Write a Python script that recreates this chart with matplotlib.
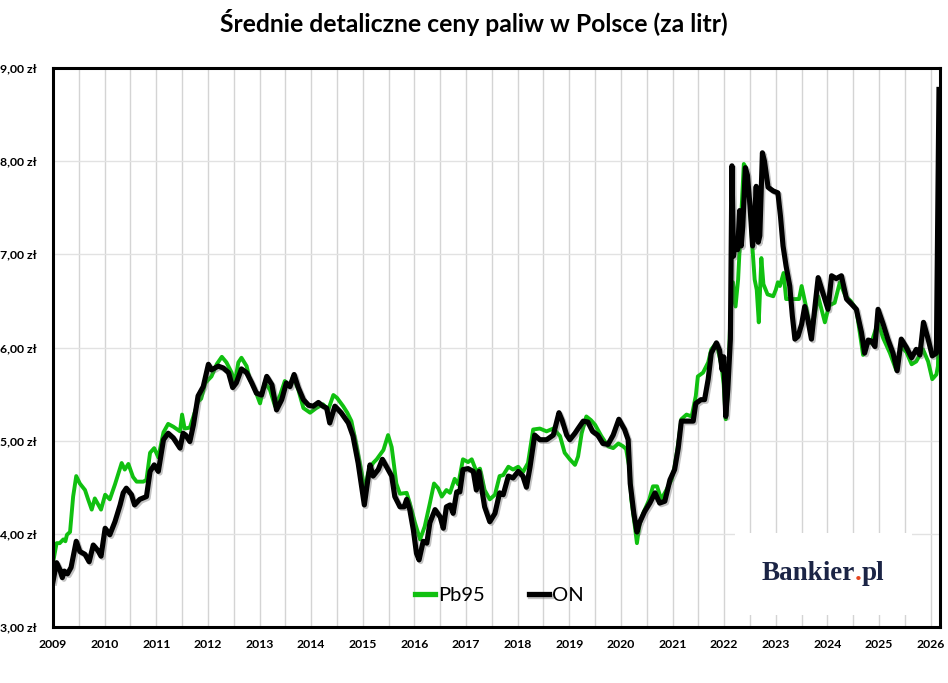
import matplotlib
matplotlib.use("Agg")
import matplotlib.pyplot as plt
import matplotlib.patheffects as pe
from matplotlib.patches import Rectangle

# ---------------- data (decimal year, PLN per litre) ----------------
pb95_t = [2009.00, 2009.07, 2009.13, 2009.20, 2009.24, 2009.27, 2009.33, 2009.39, 2009.45, 2009.52,
          2009.62, 2009.68, 2009.75, 2009.81, 2009.87, 2009.93, 2010.01, 2010.10, 2010.20, 2010.33,
          2010.39, 2010.46, 2010.55, 2010.62, 2010.75, 2010.81, 2010.88, 2010.96, 2011.04, 2011.14,
          2011.23, 2011.33, 2011.46, 2011.50, 2011.55, 2011.65, 2011.72, 2011.81, 2011.87, 2011.95,
          2012.07, 2012.17, 2012.27, 2012.36, 2012.46, 2012.52, 2012.59, 2012.65, 2012.75, 2012.81,
          2012.91, 2013.01, 2013.10, 2013.20, 2013.30, 2013.40, 2013.49, 2013.58, 2013.65, 2013.75,
          2013.85, 2013.98, 2014.10, 2014.23, 2014.33, 2014.43, 2014.50, 2014.62, 2014.70, 2014.78,
          2014.88, 2014.98, 2015.04, 2015.10, 2015.20, 2015.27, 2015.40, 2015.49, 2015.56, 2015.65,
          2015.72, 2015.85, 2015.91, 2016.01, 2016.11, 2016.20, 2016.30, 2016.38, 2016.46, 2016.53,
          2016.62, 2016.69, 2016.78, 2016.85, 2016.94, 2017.04, 2017.11, 2017.20, 2017.27, 2017.36,
          2017.46, 2017.56, 2017.65, 2017.72, 2017.82, 2017.91, 2018.01, 2018.10, 2018.20, 2018.30,
          2018.43, 2018.56, 2018.69, 2018.82, 2018.91, 2019.01, 2019.11, 2019.17, 2019.24, 2019.33,
          2019.42, 2019.50, 2019.62, 2019.75, 2019.85, 2019.95, 2020.04, 2020.10, 2020.17, 2020.20,
          2020.27, 2020.31, 2020.36, 2020.43, 2020.55, 2020.62, 2020.70, 2020.78, 2020.88, 2020.98,
          2021.04, 2021.11, 2021.17, 2021.27, 2021.37, 2021.45, 2021.49, 2021.59, 2021.69, 2021.75,
          2021.85, 2021.95, 2021.99, 2022.03, 2022.07, 2022.12, 2022.17, 2022.22, 2022.27, 2022.33,
          2022.38, 2022.42, 2022.50, 2022.55, 2022.59, 2022.63, 2022.67, 2022.72, 2022.76, 2022.84,
          2022.95, 2023.00, 2023.04, 2023.08, 2023.15, 2023.20, 2023.30, 2023.45, 2023.50, 2023.60,
          2023.69, 2023.75, 2023.82, 2023.95, 2024.03, 2024.14, 2024.24, 2024.35, 2024.45, 2024.56,
          2024.69, 2024.75, 2024.85, 2024.98, 2025.08, 2025.21, 2025.33, 2025.43, 2025.53, 2025.63,
          2025.72, 2025.85, 2025.95, 2026.03, 2026.11, 2026.14, 2026.17]
pb95_v = [3.69, 3.90, 3.90, 3.94, 3.92, 3.99, 4.02, 4.40, 4.62, 4.54,
          4.47, 4.37, 4.26, 4.38, 4.32, 4.26, 4.42, 4.37, 4.53, 4.76,
          4.69, 4.75, 4.61, 4.56, 4.56, 4.58, 4.87, 4.92, 4.82, 5.09,
          5.18, 5.15, 5.10, 5.28, 5.13, 5.14, 5.26, 5.42, 5.45, 5.62,
          5.69, 5.82, 5.90, 5.84, 5.73, 5.62, 5.84, 5.89, 5.80, 5.66,
          5.55, 5.40, 5.62, 5.55, 5.37, 5.49, 5.64, 5.58, 5.69, 5.55,
          5.35, 5.30, 5.35, 5.39, 5.33, 5.49, 5.46, 5.37, 5.30, 5.21,
          4.94, 4.65, 4.45, 4.65, 4.76, 4.80, 4.90, 5.06, 4.93, 4.54,
          4.43, 4.44, 4.33, 4.12, 3.94, 4.08, 4.33, 4.54, 4.49, 4.40,
          4.47, 4.44, 4.59, 4.53, 4.80, 4.77, 4.80, 4.67, 4.70, 4.47,
          4.37, 4.42, 4.62, 4.63, 4.72, 4.69, 4.72, 4.66, 4.76, 5.12,
          5.13, 5.10, 5.13, 5.05, 4.87, 4.80, 4.74, 4.83, 5.08, 5.26,
          5.22, 5.17, 5.05, 4.94, 4.92, 4.97, 4.94, 4.91, 4.69, 4.37,
          4.08, 3.90, 4.10, 4.22, 4.37, 4.51, 4.51, 4.37, 4.47, 4.58,
          4.72, 4.97, 5.23, 5.28, 5.26, 5.48, 5.69, 5.73, 5.84, 5.98,
          6.05, 5.80, 5.60, 5.23, 5.50, 6.34, 6.70, 6.44, 6.73, 7.41,
          7.97, 7.93, 7.52, 7.05, 6.73, 6.62, 6.27, 6.96, 6.68, 6.57,
          6.55, 6.62, 6.70, 6.66, 6.80, 6.52, 6.52, 6.52, 6.66, 6.40,
          6.12, 6.34, 6.55, 6.27, 6.45, 6.48, 6.70, 6.55, 6.50, 6.41,
          5.92, 6.05, 6.05, 6.27, 6.10, 5.94, 5.76, 6.01, 5.95, 5.82,
          5.85, 5.98, 5.85, 5.66, 5.71, 5.80, 6.70]

on_t = [2009.00, 2009.07, 2009.13, 2009.18, 2009.22, 2009.28, 2009.35, 2009.45, 2009.52, 2009.62,
        2009.70, 2009.78, 2009.87, 2009.93, 2010.01, 2010.10, 2010.20, 2010.30, 2010.36, 2010.42,
        2010.52, 2010.58, 2010.68, 2010.81, 2010.88, 2010.96, 2011.04, 2011.14, 2011.23, 2011.33,
        2011.46, 2011.52, 2011.57, 2011.65, 2011.72, 2011.81, 2011.91, 2012.01, 2012.07, 2012.20,
        2012.30, 2012.40, 2012.48, 2012.55, 2012.65, 2012.75, 2012.85, 2012.94, 2013.04, 2013.14,
        2013.24, 2013.33, 2013.43, 2013.52, 2013.59, 2013.67, 2013.75, 2013.85, 2013.95, 2014.04,
        2014.14, 2014.23, 2014.30, 2014.36, 2014.46, 2014.58, 2014.72, 2014.81, 2014.91, 2015.03,
        2015.08, 2015.14, 2015.20, 2015.30, 2015.38, 2015.46, 2015.56, 2015.62, 2015.72, 2015.80,
        2015.85, 2015.91, 2015.98, 2016.04, 2016.09, 2016.17, 2016.24, 2016.30, 2016.40, 2016.50,
        2016.56, 2016.62, 2016.69, 2016.75, 2016.82, 2016.88, 2016.94, 2017.04, 2017.14, 2017.20,
        2017.25, 2017.36, 2017.46, 2017.56, 2017.65, 2017.72, 2017.82, 2017.91, 2018.01, 2018.10,
        2018.17, 2018.24, 2018.33, 2018.43, 2018.56, 2018.69, 2018.80, 2018.86, 2018.95, 2019.01,
        2019.11, 2019.17, 2019.27, 2019.36, 2019.45, 2019.55, 2019.65, 2019.75, 2019.85, 2019.96,
        2020.07, 2020.14, 2020.18, 2020.25, 2020.31, 2020.36, 2020.46, 2020.56, 2020.66, 2020.75,
        2020.85, 2020.95, 2021.04, 2021.11, 2021.17, 2021.30, 2021.40, 2021.45, 2021.55, 2021.62,
        2021.69, 2021.75, 2021.85, 2021.91, 2021.96, 2021.99, 2022.03, 2022.07, 2022.12, 2022.15,
        2022.18, 2022.22, 2022.26, 2022.30, 2022.33, 2022.36, 2022.41, 2022.45, 2022.50, 2022.55,
        2022.58, 2022.62, 2022.66, 2022.69, 2022.74, 2022.78, 2022.85, 2022.95, 2023.04, 2023.09,
        2023.14, 2023.20, 2023.27, 2023.32, 2023.37, 2023.43, 2023.50, 2023.56, 2023.62, 2023.69,
        2023.75, 2023.82, 2023.91, 2024.01, 2024.08, 2024.17, 2024.27, 2024.37, 2024.46, 2024.56,
        2024.66, 2024.72, 2024.79, 2024.85, 2024.92, 2024.98, 2025.08, 2025.17, 2025.27, 2025.35,
        2025.43, 2025.53, 2025.63, 2025.72, 2025.79, 2025.86, 2025.95, 2026.03, 2026.11, 2026.16]
on_v = [3.49, 3.69, 3.62, 3.53, 3.60, 3.57, 3.64, 3.92, 3.81, 3.78,
        3.70, 3.88, 3.82, 3.76, 4.06, 3.99, 4.13, 4.31, 4.44, 4.49,
        4.42, 4.31, 4.37, 4.40, 4.67, 4.74, 4.67, 5.01, 5.08, 5.03,
        4.92, 5.08, 5.06, 4.99, 5.17, 5.48, 5.58, 5.82, 5.76, 5.80,
        5.78, 5.73, 5.57, 5.62, 5.77, 5.73, 5.62, 5.51, 5.49, 5.69,
        5.60, 5.33, 5.44, 5.62, 5.58, 5.71, 5.57, 5.44, 5.38, 5.37,
        5.41, 5.37, 5.35, 5.19, 5.37, 5.30, 5.19, 5.05, 4.76, 4.31,
        4.51, 4.74, 4.62, 4.69, 4.80, 4.72, 4.62, 4.40, 4.29, 4.29,
        4.37, 4.26, 4.04, 3.79, 3.72, 3.92, 3.90, 4.12, 4.26, 4.18,
        4.06, 4.29, 4.31, 4.22, 4.45, 4.45, 4.69, 4.70, 4.67, 4.47,
        4.67, 4.29, 4.13, 4.22, 4.44, 4.42, 4.62, 4.60, 4.67, 4.62,
        4.50, 4.72, 5.06, 5.01, 5.01, 5.06, 5.30, 5.22, 5.06, 5.01,
        5.08, 5.13, 5.21, 5.20, 5.10, 5.06, 4.97, 4.96, 5.06, 5.23,
        5.12, 5.01, 4.54, 4.22, 4.02, 4.12, 4.24, 4.33, 4.44, 4.33,
        4.35, 4.58, 4.69, 4.92, 5.21, 5.21, 5.21, 5.40, 5.44, 5.44,
        5.66, 5.94, 6.05, 5.97, 5.76, 5.90, 5.26, 5.55, 6.09, 7.95,
        6.98, 7.15, 7.05, 7.47, 7.09, 7.30, 7.93, 7.85, 7.52, 7.09,
        7.30, 7.73, 7.13, 7.20, 8.09, 8.00, 7.72, 7.68, 7.66, 7.41,
        7.09, 6.87, 6.66, 6.34, 6.09, 6.12, 6.25, 6.44, 6.30, 6.09,
        6.40, 6.75, 6.59, 6.41, 6.77, 6.74, 6.77, 6.52, 6.47, 6.41,
        6.16, 5.94, 6.08, 6.07, 6.01, 6.41, 6.25, 6.09, 5.94, 5.75,
        6.09, 6.00, 5.89, 5.98, 5.92, 6.27, 6.09, 5.91, 5.94, 8.77]

year_ticks = list(range(2009, 2027))
price_ticks = [3, 4, 5, 6, 7, 8, 9]
series_labels = ["Pb95", "ON"]
title_text = "Średnie detaliczne ceny paliw w Polsce (za litr)"

# ---------------- figure ----------------
GREEN = "#10c010"
fig = plt.figure(figsize=(9.48, 6.83), dpi=100)
ax = fig.add_axes([53/948, 56/683, 887/948, 559/683])

ax.set_xlim(2009, 2026.18)
ax.set_ylim(3, 9)

# grid
half_years = [y + h for y in range(2009, 2027) for h in (0.0, 0.5)]
for hy in half_years:
    if 2009 < hy < 2026.18:
        ax.axvline(hy, color="#d4d4d4", lw=1.0, zorder=0)
for p in price_ticks[1:-1]:
    ax.axhline(p, color="#e2e2e2", lw=1.0, zorder=0)

# logo box (covers grid)
ax.add_patch(Rectangle((0.769, 0.0215), 0.199, 0.147, transform=ax.transAxes,
                       facecolor="white", edgecolor="none", zorder=1))

ax.plot(pb95_t, pb95_v, color=GREEN, lw=2.8, label=series_labels[0], zorder=3,
        solid_joinstyle="round")
ax.plot(on_t, on_v, color="black", lw=3.7, label=series_labels[1], zorder=4,
        solid_joinstyle="round",
        path_effects=[pe.SimpleLineShadow(offset=(1.2, -1.2), shadow_color="#555555", alpha=0.35),
                      pe.Normal()])

# axes styling
for s in ax.spines.values():
    s.set_linewidth(2.2)
    s.set_color("black")
    s.set_zorder(6)

ax.set_xticks(year_ticks)
ax.set_xticklabels([str(y) for y in year_ticks], fontfamily="Lato", fontweight="bold", fontsize=8.8)
ax.set_yticks(price_ticks)
ax.set_yticklabels([f"{p:.2f} zł".replace(".", ",") for p in price_ticks],
                   fontfamily="Lato", fontweight="bold", fontsize=8.8)
ax.tick_params(axis="both", length=0)
ax.tick_params(axis="x", pad=9)
ax.tick_params(axis="y", pad=12)

leg = ax.legend(loc="center", bbox_to_anchor=(0.503, 0.056), ncol=2, frameon=False,
                handlelength=1.0, handletextpad=0.15, columnspacing=2.2,
                prop={"family": "Lato", "size": 14.5})
for line in leg.get_lines():
    line.set_linewidth(3.8)
leg.set_zorder(7)

fig.text(0.5, 0.967, title_text, ha="center", va="center",
         fontfamily="Lato", fontweight="bold", fontsize=17.8)

# logo text
NAVY = "#1b2445"
LOGO_FS = 19.5
t1 = ax.text(0.799, 0.084, "Bankier", transform=ax.transAxes, ha="left", va="baseline",
             fontfamily="Liberation Serif", fontweight="bold", fontsize=LOGO_FS, color=NAVY, zorder=8)
t2 = ax.annotate(".", xy=(1, 0), xycoords=t1, ha="left", va="bottom",
                 fontfamily="Liberation Serif", fontweight="bold", fontsize=LOGO_FS, color="#e5451f", zorder=8)
t3 = ax.annotate("pl", xy=(1, 0), xycoords=t2, ha="left", va="bottom",
                 fontfamily="Liberation Serif", fontweight="bold", fontsize=LOGO_FS, color=NAVY, zorder=8)

fig.savefig("out.png", dpi=100, facecolor="white")
